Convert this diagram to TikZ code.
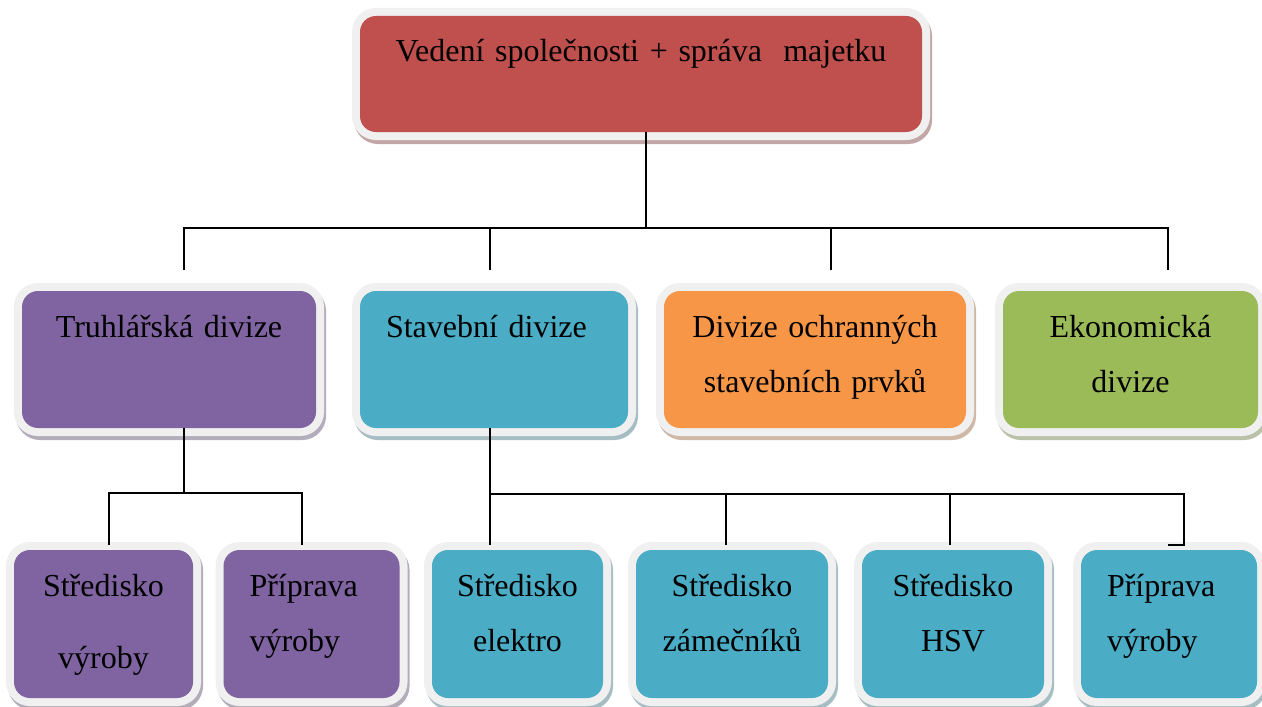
\documentclass[tikz,border=0pt]{standalone}
\usepackage{fontspec}
\setmainfont{Liberation Serif}
\usepackage{xcolor}
\usepackage{tikz}
\usetikzlibrary{shadows}
\definecolor{headred}{HTML}{C0504D}
\definecolor{divpurple}{HTML}{8064A2}
\definecolor{divteal}{HTML}{4BACC6}
\definecolor{divorange}{HTML}{F79646}
\definecolor{divgreen}{HTML}{9BBB59}
\tikzset{
    unitbox/.style={rectangle, rounded corners=8pt, inner xsep=0pt, inner ysep=0pt, align=center,
        font=\fontsize{16pt}{27.5pt}\selectfont, text height=23pt,
        drop shadow={shadow xshift=1pt, shadow yshift=-2pt, opacity=1, fill=#1!40!gray!60!white, draw=#1!40!gray!60!white, line width=8pt},
        preaction={draw=black!6, line width=8pt}, fill=#1},
    leftbox/.style={align=left, inner xsep=13pt},
    conn/.style={line width=1pt}
}
\begin{document}
\begin{tikzpicture}[x=0.5pt,y=-0.5pt]
    \useasboundingbox (0,0) rectangle (1262,706);
    \draw (641,74) node[unitbox=headred, text width=281pt, text depth=35pt] (vedeni) {Vedení společnosti + správa~ majetku};
    \draw (169,359.5) node[unitbox=divpurple, text width=147pt, text depth=45.5pt] (truhlar) {Truhlářská divize};
    \draw (494,359.5) node[unitbox=divteal, leftbox, text width=108pt, text depth=45.5pt] (stavebni) {Stavební divize};
    \draw (815,359.5) node[unitbox=divorange, text width=151pt, text depth=45.5pt] (ochranne) {Divize ochranných\\stavebních prvků};
    \draw (1130.5,359.5) node[unitbox=divgreen, text width=127.5pt, text depth=45.5pt] (ekonom) {Ekonomická\\divize};
    \draw (103.5,624) node[unitbox=divpurple, text width=89.5pt, text depth=51pt] (stredvyr) {Středisko\\[8.5pt]výroby};
    \draw (311.5,624) node[unitbox=divpurple, leftbox, text width=62pt, text depth=51pt] (pripvyr) {Příprava\\výroby};
    \draw (517.5,624) node[unitbox=divteal, text width=85.5pt, text depth=51pt] (elektro) {Středisko\\elektro};
    \draw (732,624) node[unitbox=divteal, text width=96pt, text depth=51pt] (zamecnik) {Středisko\\zámečníků};
    \draw (953,624) node[unitbox=divteal, text width=91pt, text depth=51pt] (hsv) {Středisko\\HSV};
    \draw (1169,624) node[unitbox=divteal, leftbox, text width=62pt, text depth=51pt] (pripstav) {Příprava\\výroby};
    % top level
    \coordinate (top fork) at (646,228);
    \coordinate (drop truhlar) at (184,270);
    \coordinate (drop stavebni) at (490,270);
    \coordinate (drop ochranne) at (831,270);
    \coordinate (drop ekonom) at (1168,270);
    \draw[conn] (vedeni.south -| top fork) -- (top fork);
    \draw[conn] (drop truhlar) |- (top fork) -| (drop ekonom);
    \draw[conn] (drop stavebni) -- (drop stavebni |- top fork);
    \draw[conn] (drop ochranne) -- (drop ochranne |- top fork);
    % truhlarska divize
    \coordinate (truhlar fork) at (184,493);
    \coordinate (truhlar left) at (109,493);
    \coordinate (truhlar right) at (302,493);
    \draw[conn] (truhlar.south -| truhlar fork) -- (truhlar fork);
    \draw[conn] ([yshift=2.5pt]stredvyr.north -| truhlar left) -- (truhlar left) -- (truhlar right) -- ([yshift=2.5pt]pripvyr.north -| truhlar right);
    % stavebni divize
    \coordinate (stav fork) at (490,494);
    \coordinate (stav zamec) at (726,494);
    \coordinate (stav hsv) at (950,494);
    \coordinate (stav right) at (1184,494);
    \coordinate (stav hook) at (1168,545);
    \draw[conn] (stavebni.south -| stav fork) -- ([yshift=2.5pt]elektro.north -| stav fork);
    \draw[conn] (stav fork) -- (stav right) |- (stav hook);
    \draw[conn] (stav zamec) -- ([yshift=2.5pt]zamecnik.north -| stav zamec);
    \draw[conn] (stav hsv) -- ([yshift=2.5pt]hsv.north -| stav hsv);
\end{tikzpicture}
\end{document}
